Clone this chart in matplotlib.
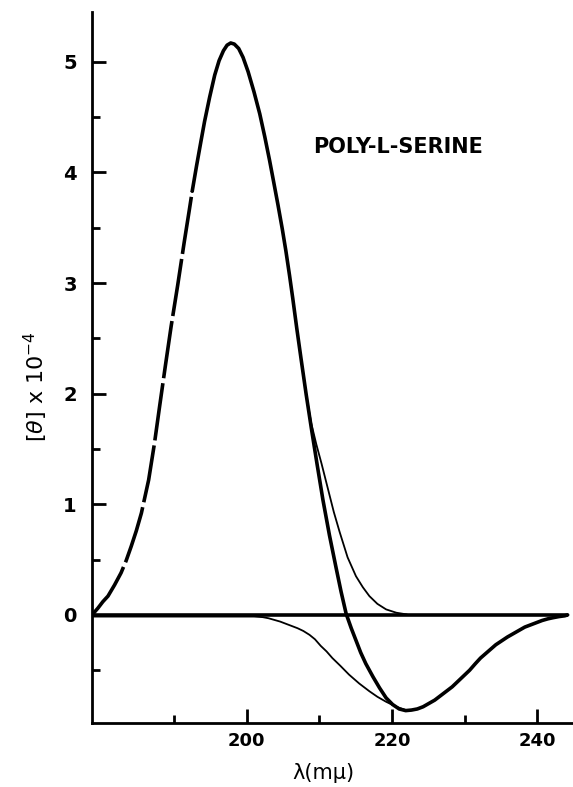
import matplotlib
matplotlib.use("Agg")
import matplotlib.pyplot as plt
from matplotlib.ticker import FixedLocator

# observed CD curve, dashed part (wavelength in m-mu, [theta] x 1e-4)
wl_dash = [178.7, 179.5, 180.2, 180.9, 181.8, 182.7, 183.4, 184.1, 184.8,
           185.5, 186.0, 186.5, 187.3, 188.0, 188.8, 189.6, 190.5, 191.4,
           192.1, 192.5]
th_dash = [0.0, 0.06, 0.12, 0.17, 0.27, 0.38, 0.49, 0.62, 0.76,
           0.92, 1.07, 1.22, 1.55, 1.88, 2.25, 2.61, 2.98, 3.37,
           3.66, 3.83]

# observed CD curve, solid part
wl_obs = [192.5, 193.1, 193.7, 194.2, 194.9, 195.6, 196.2, 196.8, 197.3,
          197.8, 198.3, 198.9, 199.5, 200.2, 201.0, 201.8, 202.5, 203.15,
          203.7, 204.3, 204.9, 205.4, 205.9, 206.35, 206.9, 207.5, 208.2,
          208.9, 209.7, 210.5, 211.4, 212.3, 213.0, 213.7, 214.4, 215.05,
          215.7, 216.4, 217.4, 218.3, 219.2, 220.1, 221.0, 221.9, 222.7,
          223.5, 224.3, 225.1, 225.9, 226.7, 227.5, 228.3, 229.1, 229.9,
          230.7, 231.5, 232.2, 232.9, 233.6, 234.3, 235.1, 235.9, 236.7,
          237.5, 238.3, 239.1, 239.9, 240.7, 241.5, 242.2, 243.0, 243.8,
          244.2]
th_obs = [3.83, 4.06, 4.28, 4.46, 4.68, 4.88, 5.01, 5.10, 5.15,
          5.17, 5.16, 5.12, 5.04, 4.91, 4.73, 4.53, 4.32, 4.11,
          3.92, 3.71, 3.49, 3.29, 3.07, 2.86, 2.59, 2.31, 1.99,
          1.69, 1.36, 1.04, 0.72, 0.43, 0.21, 0.01, -0.12, -0.23,
          -0.34, -0.44, -0.56, -0.66, -0.75, -0.81, -0.85, -0.865, -0.86,
          -0.85, -0.83, -0.80, -0.77, -0.73, -0.69, -0.65, -0.60, -0.55,
          -0.50, -0.44, -0.39, -0.35, -0.31, -0.27, -0.235, -0.20, -0.17,
          -0.14, -0.11, -0.09, -0.07, -0.05, -0.035, -0.025, -0.015, -0.008,
          0.0]

# positive component (thin)
wl_pos = [207.5, 208.2, 208.9, 209.6, 210.3, 211.15, 212.0, 212.8, 213.9,
          215.05, 216.0, 216.9, 218.0, 219.2, 220.6, 222.0]
th_pos = [2.31, 1.99, 1.73, 1.54, 1.37, 1.15, 0.93, 0.75, 0.52,
          0.35, 0.25, 0.17, 0.10, 0.05, 0.02, 0.005]

# negative component (thin)
wl_neg = [178.7, 201.0, 202.2, 203.0, 203.8, 204.6, 205.4, 206.2, 207.0,
          207.8, 208.65, 209.4, 210.2, 211.0, 211.8, 212.9, 214.1, 215.5,
          216.9, 218.0, 219.2, 220.6, 221.9]
th_neg = [-0.015, -0.015, -0.02, -0.03, -0.045, -0.06, -0.08, -0.10, -0.12,
          -0.145, -0.18, -0.22, -0.28, -0.33, -0.39, -0.46, -0.54, -0.62,
          -0.69, -0.74, -0.785, -0.83, -0.86]

x_major = [200, 220, 240]
x_minor = [190, 210, 230]
y_major = [0, 1, 2, 3, 4, 5]
y_minor = [-0.5, 0.5, 1.5, 2.5, 3.5, 4.5]

fig = plt.figure(figsize=(5.73, 7.87), dpi=100)
ax = fig.add_axes([92 / 573, 64 / 787, 480 / 573, 711 / 787])

thick = 2.6
thin = 1.3

# zero line
ax.plot([178.7, 244.3], [0, 0], color="black", lw=thick,
        solid_capstyle="butt")
ax.plot(wl_dash, th_dash, color="black", lw=thick,
        linestyle=(0, (16, 1.4)), dash_capstyle="butt")
ax.plot(wl_obs, th_obs, color="black", lw=thick, solid_capstyle="round",
        solid_joinstyle="round")
ax.plot(wl_pos, th_pos, color="black", lw=thin, solid_joinstyle="round")
ax.plot(wl_neg, th_neg, color="black", lw=thin, solid_joinstyle="round")

ax.set_xlim(178.7, 244.8)
ax.set_ylim(-0.977, 5.45)

for side in ("top", "right"):
    ax.spines[side].set_visible(False)
for side in ("left", "bottom"):
    ax.spines[side].set_linewidth(2.0)

ax.xaxis.set_major_locator(FixedLocator(x_major))
ax.xaxis.set_minor_locator(FixedLocator(x_minor))
ax.yaxis.set_major_locator(FixedLocator(y_major))
ax.yaxis.set_minor_locator(FixedLocator(y_minor))

ax.tick_params(which="both", direction="in", width=2.0)
ax.tick_params(which="major", length=10)
ax.tick_params(which="minor", length=6)
ax.tick_params(axis="x", which="major", labelsize=13, pad=6.5)
ax.tick_params(axis="y", which="major", labelsize=14, pad=11)
for lab in ax.get_xticklabels() + ax.get_yticklabels():
    lab.set_fontweight("bold")

ax.set_xlabel("λ(mμ)", fontsize=15)
ax.xaxis.set_label_coords(0.483, -0.056)
ax.set_ylabel(r"[$\theta$] x 10$^{-4}$", fontsize=16)
ax.yaxis.set_label_coords(-0.0875, 0.4726)

ax.text(209.1, 4.23, "POLY-L-SERINE", fontsize=15, fontweight="bold",
        ha="left", va="center")

fig.savefig("out.png", dpi=100)
